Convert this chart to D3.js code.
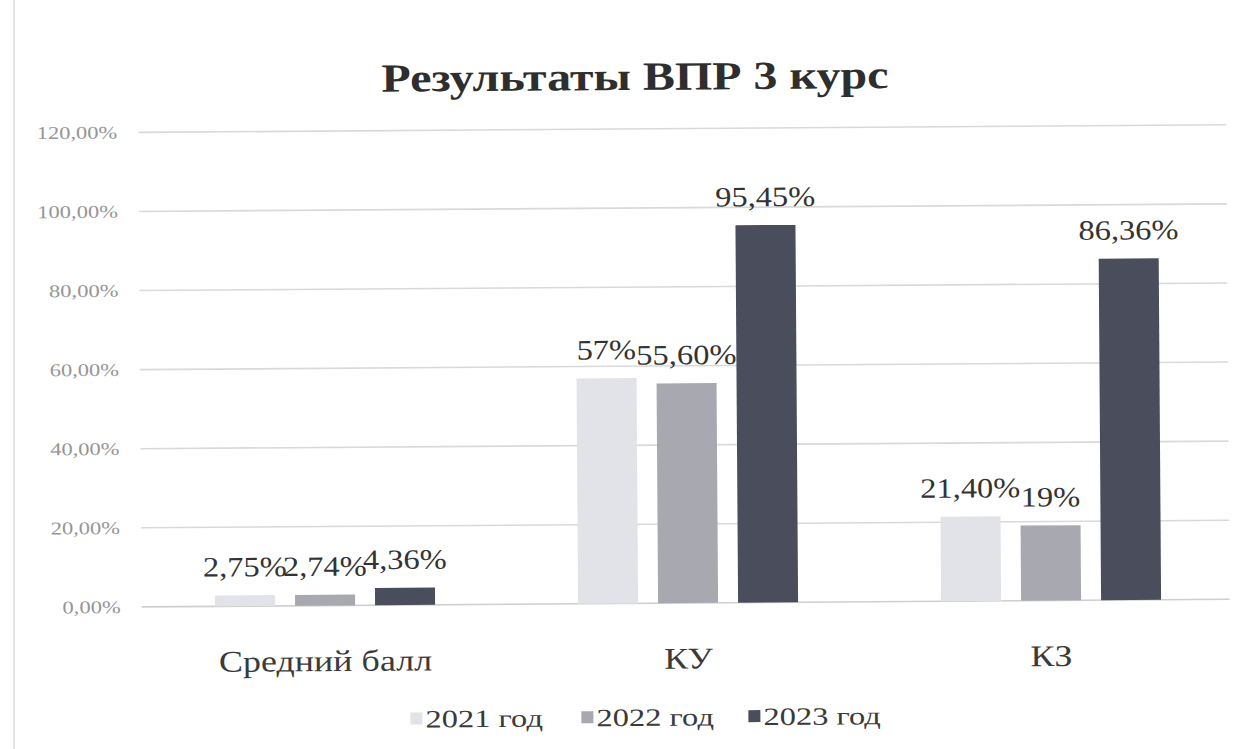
<!DOCTYPE html>
<html>
<head>
<meta charset="utf-8">
<script src="https://cdnjs.cloudflare.com/ajax/libs/d3/7.8.5/d3.min.js"></script>
<style>
	body { margin: 0; background: #ffffff; }
	svg { display: block; }
	text { font-family: "Liberation Serif", "DejaVu Serif", serif; }
</style>
</head>
<body>
<div id="chart"></div>
<script>
// chart data
var categories = ['Средний балл', 'КУ', 'КЗ'];
var years = ['2021 год', '2022 год', '2023 год'];
var values2021 = [2.75, 57, 21.40];
var values2022 = [2.74, 55.60, 19];
var values2023 = [4.36, 95.45, 86.36];
var valueLabels2021 = ['2,75%', '57%', '21,40%'];
var valueLabels2022 = ['2,74%', '55,60%', '19%'];
var valueLabels2023 = ['4,36%', '95,45%', '86,36%'];
var yTicks = [0, 20, 40, 60, 80, 100, 120];
var yTickLabels = ['0,00%', '20,00%', '40,00%', '60,00%', '80,00%', '100,00%', '120,00%'];

var width = 1250, height = 749;
var colors = ['#e2e3e8', '#a8a9b0', '#4a4d5b'];
var stretch = 1.12;

var svg = d3.select('#chart').append('svg')
	.attr('width', width)
	.attr('height', height);

// scanned page edge
svg.append('line')
	.attr('x1', 14).attr('x2', 14).attr('y1', 0).attr('y2', height)
	.attr('stroke', '#e4e4e4').attr('stroke-width', 2);

// the scan is slightly tilted
var root = svg.append('g').attr('transform', 'rotate(-0.4,625,375)');

var x0 = d3.scaleBand().domain(categories).range([142, 1231]);
var x1 = d3.scaleBand().domain(years).range([-120, 120]).paddingInner(0.25).paddingOuter(0.125);
var y = d3.scaleLinear().domain([0, 120]).range([603.5, 129]);

function stretchedText(g, x, yPos, str, sx) {
	return g.append('text')
		.attr('transform', 'translate(' + x + ',' + yPos + ') scale(' + (sx || stretch) + ',1)')
		.text(str);
}

// gridlines
root.append('g')
	.selectAll('line')
	.data(yTicks)
	.enter().append('line')
	.attr('x1', 140).attr('x2', 1228)
	.attr('y1', function (d) { return y(d); })
	.attr('y2', function (d) { return y(d); })
	.attr('stroke', function (d) { return d === 0 ? '#cfcfcf' : '#d9d9d9'; })
	.attr('stroke-width', 1.6);

// y tick labels
var yAxis = root.append('g');
yTicks.forEach(function (t, i) {
	stretchedText(yAxis, 119, y(t) + 6, yTickLabels[i], 1.25)
		.attr('text-anchor', 'end')
		.attr('font-size', 18)
		.attr('fill', '#969696');
});

// bars
var series = [values2021, values2022, values2023];
var seriesLabels = [valueLabels2021, valueLabels2022, valueLabels2023];
var bars = root.append('g');
var labels = root.append('g');

series.forEach(function (vals, s) {
	var year = years[s];
	bars.selectAll('rect.series-' + s)
		.data(vals)
		.enter().append('rect')
		.attr('class', 'series-' + s)
		.attr('x', function (d, i) { return x0(categories[i]) + x0.bandwidth() / 2 + x1(year); })
		.attr('y', function (d) { return y(d); })
		.attr('width', x1.bandwidth())
		.attr('height', function (d) { return y(0) - y(d); })
		.attr('fill', colors[s]);

	vals.forEach(function (d, i) {
		var cx = x0(categories[i]) + x0.bandwidth() / 2 + x1(year) + x1.bandwidth() / 2;
		stretchedText(labels, cx, y(d) - 19, seriesLabels[s][i], 1.16)
			.attr('text-anchor', 'middle')
			.attr('font-size', 28)
			.attr('fill', '#333333');
	});
});

// category labels
var xAxis = root.append('g');
categories.forEach(function (c) {
	stretchedText(xAxis, x0(c) + x0.bandwidth() / 2, 669, c, 1.2)
		.attr('text-anchor', 'middle')
		.attr('font-size', 30)
		.attr('fill', '#3a3a3a');
});

// title
stretchedText(root, 637, 90, 'Результаты ВПР 3 курс', 1.2)
	.attr('text-anchor', 'middle')
	.attr('font-size', 40)
	.attr('font-weight', 'bold')
	.attr('fill', '#2e2e2e');

// legend
var legend = root.append('g');
var legendX = [408, 579, 746];
years.forEach(function (yr, i) {
	legend.append('rect')
		.attr('x', legendX[i]).attr('y', 711)
		.attr('width', 12).attr('height', 12)
		.attr('fill', colors[i]);
	stretchedText(legend, legendX[i] + 15, 726, yr, 1.3)
		.attr('font-size', 25)
		.attr('fill', '#3a3a3a');
});
</script>
</body>
</html>
